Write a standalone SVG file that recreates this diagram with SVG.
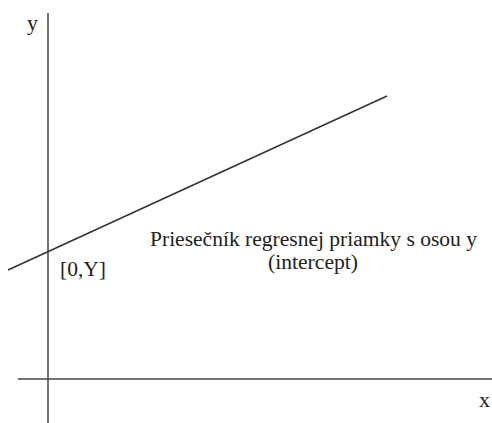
<svg xmlns="http://www.w3.org/2000/svg" width="492" height="423" viewBox="0 0 492 423">
<style>
.ax{stroke:#444;stroke-width:1.5;fill:none}
.ln{stroke:#333;stroke-width:1.5;fill:none}
.t{font-family:'Liberation Serif','DejaVu Serif',serif;fill:#222}
</style>
<rect width="492" height="423" fill="#fff"/>
<g id="connectors">
<line class="ax" x1="48" y1="13" x2="48" y2="423"/>
<line class="ax" x1="18" y1="379" x2="492" y2="379"/>
<line class="ln" x1="8" y1="270" x2="387" y2="96"/>
</g>
<g id="label-y"><text class="t" x="27" y="30" font-size="22">y</text></g>
<g id="label-x"><text class="t" x="479" y="407" font-size="22">x</text></g>
<g id="label-point"><text class="t" x="60" y="276" font-size="20" textLength="46" lengthAdjust="spacingAndGlyphs">[0,Y]</text></g>
<g id="label-intercept">
<text class="t" x="150" y="246" font-size="20" textLength="327" lengthAdjust="spacingAndGlyphs">Priesečník regresnej priamky s osou y</text>
<text class="t" x="268" y="269" font-size="20" textLength="90" lengthAdjust="spacingAndGlyphs">(intercept)</text>
</g>
</svg>
